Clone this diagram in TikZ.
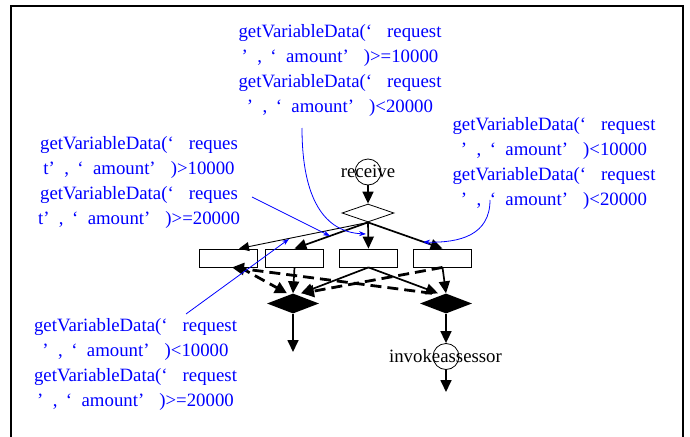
\documentclass[tikz,border=0pt]{standalone}
\usepackage{fontspec}
\setmainfont{Liberation Serif}
\usetikzlibrary{arrows.meta,shapes.geometric,calc}

% text size used for every label
\newcommand\annfont{\fontsize{18.8}{25}\selectfont}
% wide quotation marks around the variable names
\newcommand\lqsp{‘\hspace{.8em}}
\newcommand\midq{’\hspace{.5em},\hspace{.45em}‘\hspace{.5em}}
\newcommand\closeq{’\hspace{.8em})}

\tikzset{
  ann/.style={text=blue, inner sep=0pt, anchor=base, font=\annfont},
  lbl/.style={inner sep=0pt, anchor=base, font=\annfont},
  ringbox/.style={circle, draw, line width=0.8pt, minimum size=26pt, inner sep=0pt},
  gatebox/.style={diamond, draw, line width=0.8pt, minimum width=52pt, minimum height=18pt, inner sep=0pt, fill=white},
  joinbox/.style={diamond, fill=black, minimum width=52pt, minimum height=20pt, inner sep=0pt},
  taskbox/.style={rectangle, draw, line width=0.8pt, minimum width=58pt, minimum height=18pt, inner sep=0pt},
  flowline/.style={line width=1.7pt, -{Triangle[length=12pt,width=11pt]}},
  thinflow/.style={line width=0.9pt, -{Triangle[length=10pt,width=9pt]}},
  loopflow/.style={line width=2.8pt, dash pattern=on 11pt off 6pt, -{Triangle[length=12pt,width=12pt]}},
  notearrow/.style={blue, line width=0.8pt, -{Stealth[length=7pt,width=5pt]}},
}

\begin{document}
\begin{tikzpicture}[x=1pt, y=-1pt]
\useasboundingbox (0,0) rectangle (690,436);

% outer frame (open at the bottom)
\draw[line width=2pt] (683,437) -- (683,6) -- (11,6) -- (11,437);

% process nodes
\node[ringbox] (recv) at (368,172) {};
\node[lbl] (recvtext) at (368,177) {receive};
\node[gatebox] (split) at (368,213) {};

\node[taskbox] (r1) at (228,258) {};
\node[taskbox] (r2) at (294.5,258) {};
\node[taskbox] (r3) at (368.5,258) {};
\node[taskbox] (r4) at (442.5,258) {};

\node[joinbox] (dA) at (293,303.5) {};
\node[joinbox] (dB) at (446,303.5) {};

\node[ringbox] (inv) at (446,356.5) {};
\node[lbl] (invtext) at (445.5,362) {invokeassessor};

\coordinate (endA) at (293,352);
\coordinate (endB) at (446,392);

% flows from the split
\draw[flowline] (recv.south) -- (split.north);
\draw[thinflow] (split.south) -- ([xshift=11pt]r1.north);
\draw[flowline] (split.south) -- (r2.north);
\draw[flowline] (split.south) -- (r3.north);
\draw[flowline] (split.south) -- (r4.north);

% flows into the joins
\draw[flowline] (r2.south) -- (dA.north);
\draw[flowline] (r3.south) -- ([xshift=8pt]dA.north);
\draw[flowline] (r3.south) -- ([xshift=-8pt]dB.north);
\draw[flowline] (r4.south) -- (dB.north);

% dashed flows
\draw[loopflow] ([xshift=12pt]r1.south) -- ([xshift=-6pt]dA.north);
\draw[loopflow] ([xshift=-14pt]dB.north) -- ([xshift=4pt]r1.south);
\draw[loopflow] (r4.south) -- ([xshift=9pt]dA.north);

% outgoing flows
\draw[flowline] (dA.south) -- (endA);
\draw[flowline] (dB.south) -- (inv.north);
\draw[flowline] (inv.south) -- (endB);

% condition annotations
\node[ann] (tT) at (340,37.5) {\begin{tabular}[t]{@{}c@{}}
getVariableData(\lqsp request\\
\midq amount\closeq>=10000\\
getVariableData(\lqsp request\\
\midq amount\closeq<20000
\end{tabular}};

\node[ann] (tL) at (139,149) {\begin{tabular}[t]{@{}c@{}}
getVariableData(\lqsp reques\\
t\midq amount\closeq>10000\\
getVariableData(\lqsp reques\\
t\midq amount\closeq>=20000
\end{tabular}};

\node[ann] (tR) at (554,130) {\begin{tabular}[t]{@{}c@{}}
getVariableData(\lqsp request\\
\midq amount\closeq<10000\\
getVariableData(\lqsp request\\
\midq amount\closeq<20000
\end{tabular}};

\node[ann] (tB) at (135.5,331) {\begin{tabular}[t]{@{}c@{}}
getVariableData(\lqsp request\\
\midq amount\closeq<10000\\
getVariableData(\lqsp request\\
\midq amount\closeq>=20000
\end{tabular}};

% annotation pointers
\coordinate (b1s) at (302,128);
\coordinate (b1e) at (366,234);
\coordinate (b2s) at (252,197);
\coordinate (b2e) at (330,236);
\coordinate (b3s) at (186,314);
\coordinate (b3e) at (289,239);
\coordinate (b4s) at (490,200);
\coordinate (b4e) at (423,242);

\draw[notearrow] (b1s) .. controls (302,200) and (325,232) .. (b1e);
\draw[notearrow] (b2s) -- (b2e);
\draw[notearrow] (b3s) -- (b3e);
\draw[notearrow] (b4s) .. controls (490,235) and (460,243) .. (b4e);
\end{tikzpicture}
\end{document}
